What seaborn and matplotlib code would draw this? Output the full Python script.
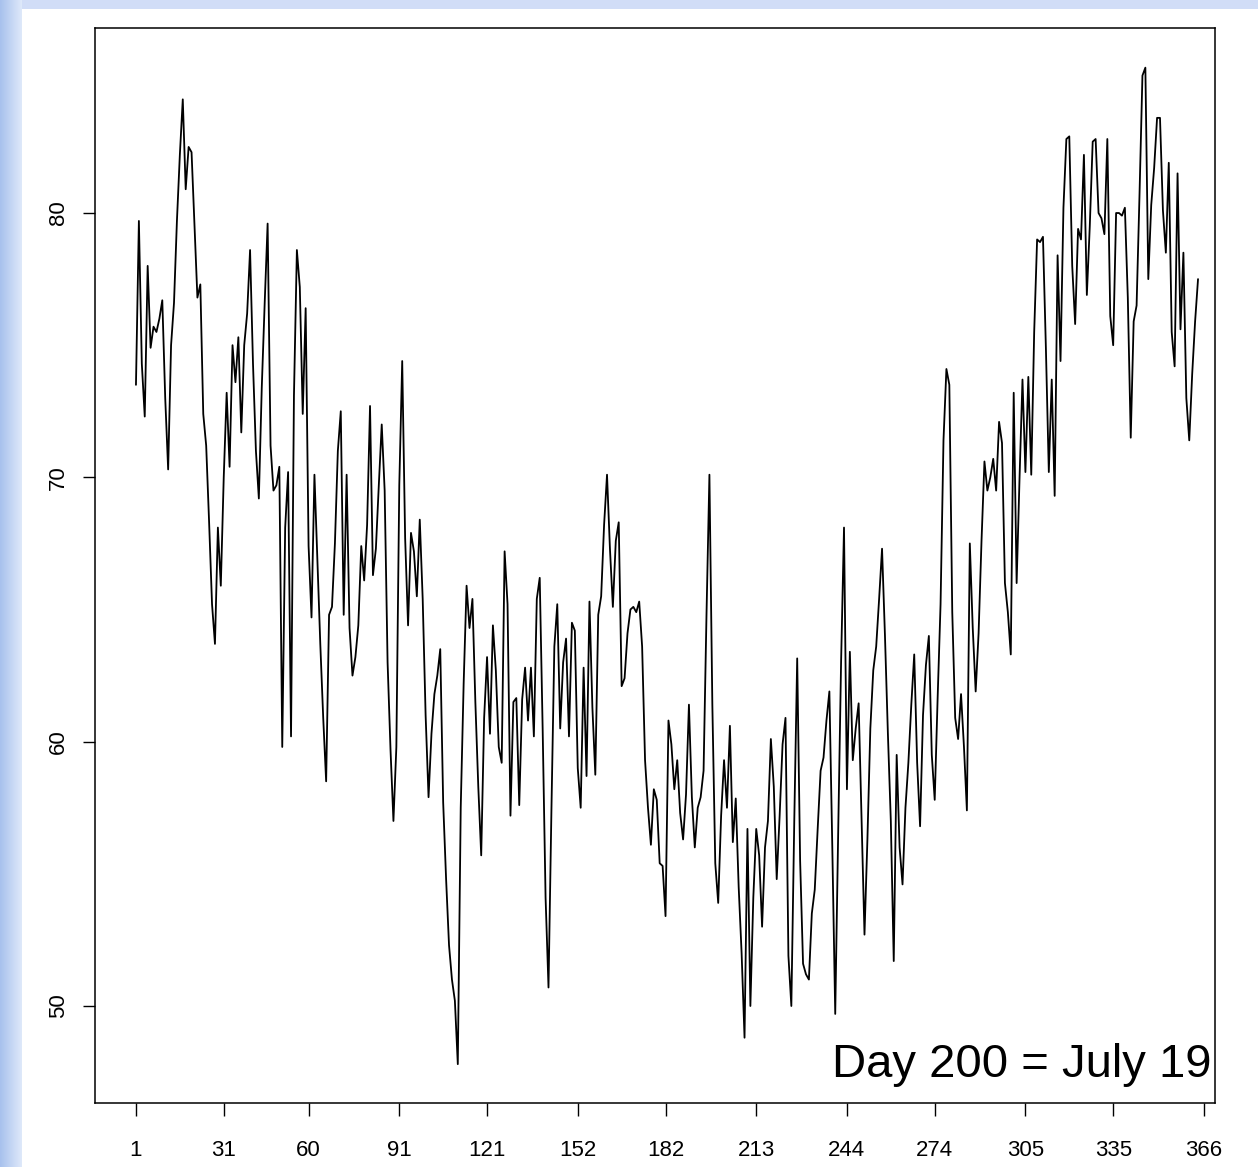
import numpy as np
import pandas as pd
import matplotlib
matplotlib.use("Agg")
import matplotlib.pyplot as plt
import seaborn as sns

# ---------------- data ----------------
q1_values = [73.5, 79.7, 74.3, 72.3, 78.0, 74.9, 75.7, 75.5, 76.0, 76.7,
             73.0, 70.3, 75.0, 76.6, 79.7, 82.2, 84.3, 80.9, 82.5, 82.3,
             79.5, 76.8, 77.3, 72.4, 71.2, 68.3, 65.2, 63.7, 68.1, 65.9,
             70.0, 73.2, 70.4, 75.0, 73.6, 75.3, 71.7, 75.0, 76.2, 78.6,
             74.3, 71.0, 69.2, 73.4, 76.6, 79.6, 71.2, 69.5, 69.7, 70.4,
             59.8, 68.1, 70.2, 60.2, 73.1, 78.6, 77.2, 72.4, 76.4, 67.4,
             64.7, 70.1, 66.9, 63.7, 60.9, 58.5, 64.8, 65.1, 67.5, 71.0,
             72.5, 64.8, 70.1, 64.3, 62.5, 63.2, 64.4, 67.4, 66.1, 68.2,
             72.7, 66.3, 67.3, 69.7, 72.0, 69.5, 63.0, 59.7, 57.0, 59.8,
             69.7]
q2_values = [74.4, 67.7, 64.4, 67.9, 67.2, 65.5, 68.4, 65.4, 61.0,
             57.9, 60.3, 61.8, 62.5, 63.5, 57.7, 54.8, 52.3, 51.0, 50.2,
             47.8, 57.5, 62.2, 65.9, 64.3, 65.4, 61.5, 58.3, 55.7, 60.9,
             63.2, 60.3, 64.4, 62.7, 59.8, 59.2, 67.2, 65.2, 57.2, 61.5,
             61.65, 57.6, 61.6, 62.8, 60.8, 62.8, 60.2, 65.4, 66.2, 60.5,
             54.1, 50.7, 57.4, 63.6, 65.2, 60.5, 63.0, 63.9, 60.2, 64.5,
             64.2, 59.0, 57.5, 62.8, 58.7, 65.3, 61.3, 58.75, 64.8, 65.5,
             68.2, 70.1, 67.3, 65.1, 67.6, 68.3, 62.1, 62.4, 64.1, 65.0,
             65.1, 64.9, 65.3, 63.6, 59.3, 57.5, 56.1, 58.2, 57.8, 55.4,
             55.3, 53.4]
q3_values = [60.8, 59.9, 58.2, 59.3, 57.3, 56.3, 58.0, 61.4,
             57.9, 56.0, 57.5, 57.9, 58.9, 64.8, 70.1, 61.4, 55.4, 53.9,
             57.2, 59.3, 57.5, 60.6, 56.2, 57.85, 54.5, 52.0, 48.8, 56.7,
             50.0, 54.1, 56.7, 55.7, 53.0, 56.0, 57.0, 60.1, 58.3, 54.8,
             57.2, 59.9, 60.9, 51.9, 50.0, 57.0, 63.15, 55.5, 51.6, 51.2,
             51.0, 53.5, 54.4, 56.7, 58.9, 59.4, 60.8, 61.9, 56.0, 49.7,
             56.5, 63.0, 68.1, 58.2, 63.4, 59.3, 60.5, 61.45, 57.0, 52.7,
             56.3, 60.5, 62.7, 63.6, 65.4, 67.3, 64.0, 60.3, 57.0, 51.7,
             59.5, 56.0, 54.6, 57.5, 59.2, 61.4, 63.3, 59.2, 56.8, 61.0,
             62.9, 64.0, 59.5]
q4_values = [57.8, 61.65, 65.2, 71.4, 74.1, 73.5, 64.9,
             60.9, 60.1, 61.8, 59.8, 57.4, 67.5, 64.3, 61.9, 64.1, 67.6,
             70.6, 69.5, 70.0, 70.7, 69.5, 72.1, 71.3, 66.0, 64.9, 63.3,
             73.2, 66.0, 70.0, 73.7, 70.2, 73.8, 70.1, 75.5, 79.0, 78.9,
             79.1, 74.9, 70.2, 73.7, 69.3, 78.4, 74.4, 80.2, 82.8, 82.9,
             78.0, 75.8, 79.4, 79.0, 82.2, 76.9, 79.5, 82.7, 82.8, 80.0,
             79.8, 79.2, 82.8, 76.1, 75.0, 80.0, 80.0, 79.9, 80.2, 76.8,
             71.5, 75.9, 76.5, 80.7, 85.2, 85.5, 77.5, 80.3, 81.7, 83.6,
             83.6, 80.1, 78.5, 81.9, 75.5, 74.2, 81.5, 75.6, 78.5, 73.0,
             71.4, 73.9, 75.9, 77.5]

x_tick_labels = ["1", "31", "60", "91", "121", "152", "182", "213",
                 "244", "274", "305", "335", "366"]
y_tick_values = [50, 60, 70, 80]
annotation = "Day 200 = July 19"

values = q1_values + q2_values + q3_values + q4_values
days = list(range(1, len(values) + 1))
df = pd.DataFrame({"day": days, "value": values})

# ---------------- styling ----------------
sns.set_style("ticks")
plt.rcParams["font.family"] = ["Liberation Sans", "DejaVu Sans"]

W, H = 1258, 1167
fig = plt.figure(figsize=(W / 100, H / 100), dpi=100)
fig.patch.set_facecolor("white")

# slide-like blue border on the left and top
bg = fig.add_axes([0, 0, 1, 1], zorder=-10)
bg.axis("off")
img = np.ones((H, W, 3))
left_c0 = np.array([0.66, 0.76, 0.93])
left_c1 = np.array([0.87, 0.91, 0.98])
for i in range(22):
    t = i / 21.0
    img[:, i, :] = left_c0 * (1 - t) + left_c1 * t
top_c = np.array([0.82, 0.87, 0.97])
for j in range(9):
    img[j, 22:, :] = top_c
bg.imshow(img, aspect="auto", extent=[0, 1, 0, 1], interpolation="nearest")

left, right, top, bottom = 95, 1215, 28, 1103
ax = fig.add_axes([left / W, 1 - bottom / H, (right - left) / W, (bottom - top) / H])
ax.set_facecolor("white")

sns.lineplot(data=df, x="day", y="value", ax=ax, color="black", linewidth=1.3)

ax.set_xlim(-13.0, 369.8)
ax.set_ylim(46.33, 87.0)
ax.set_xticks([int(s) for s in x_tick_labels])
ax.set_xticklabels(x_tick_labels)
ax.set_yticks(y_tick_values)
ax.set_yticklabels([str(v) for v in y_tick_values], rotation=90, va="center")
ax.set_xlabel("")
ax.set_ylabel("")
ax.tick_params(axis="both", length=9, width=1.0, colors="black", labelsize=16,
               direction="out")
ax.tick_params(axis="x", pad=18)
ax.tick_params(axis="y", pad=10)
for s in ax.spines.values():
    s.set_visible(True)
    s.set_color("black")
    s.set_linewidth(1.1)

fig.text(832 / W, 1 - 1077 / H, annotation, fontsize=34, ha="left", va="baseline",
         color="black")

fig.savefig("out.png", dpi=100)
